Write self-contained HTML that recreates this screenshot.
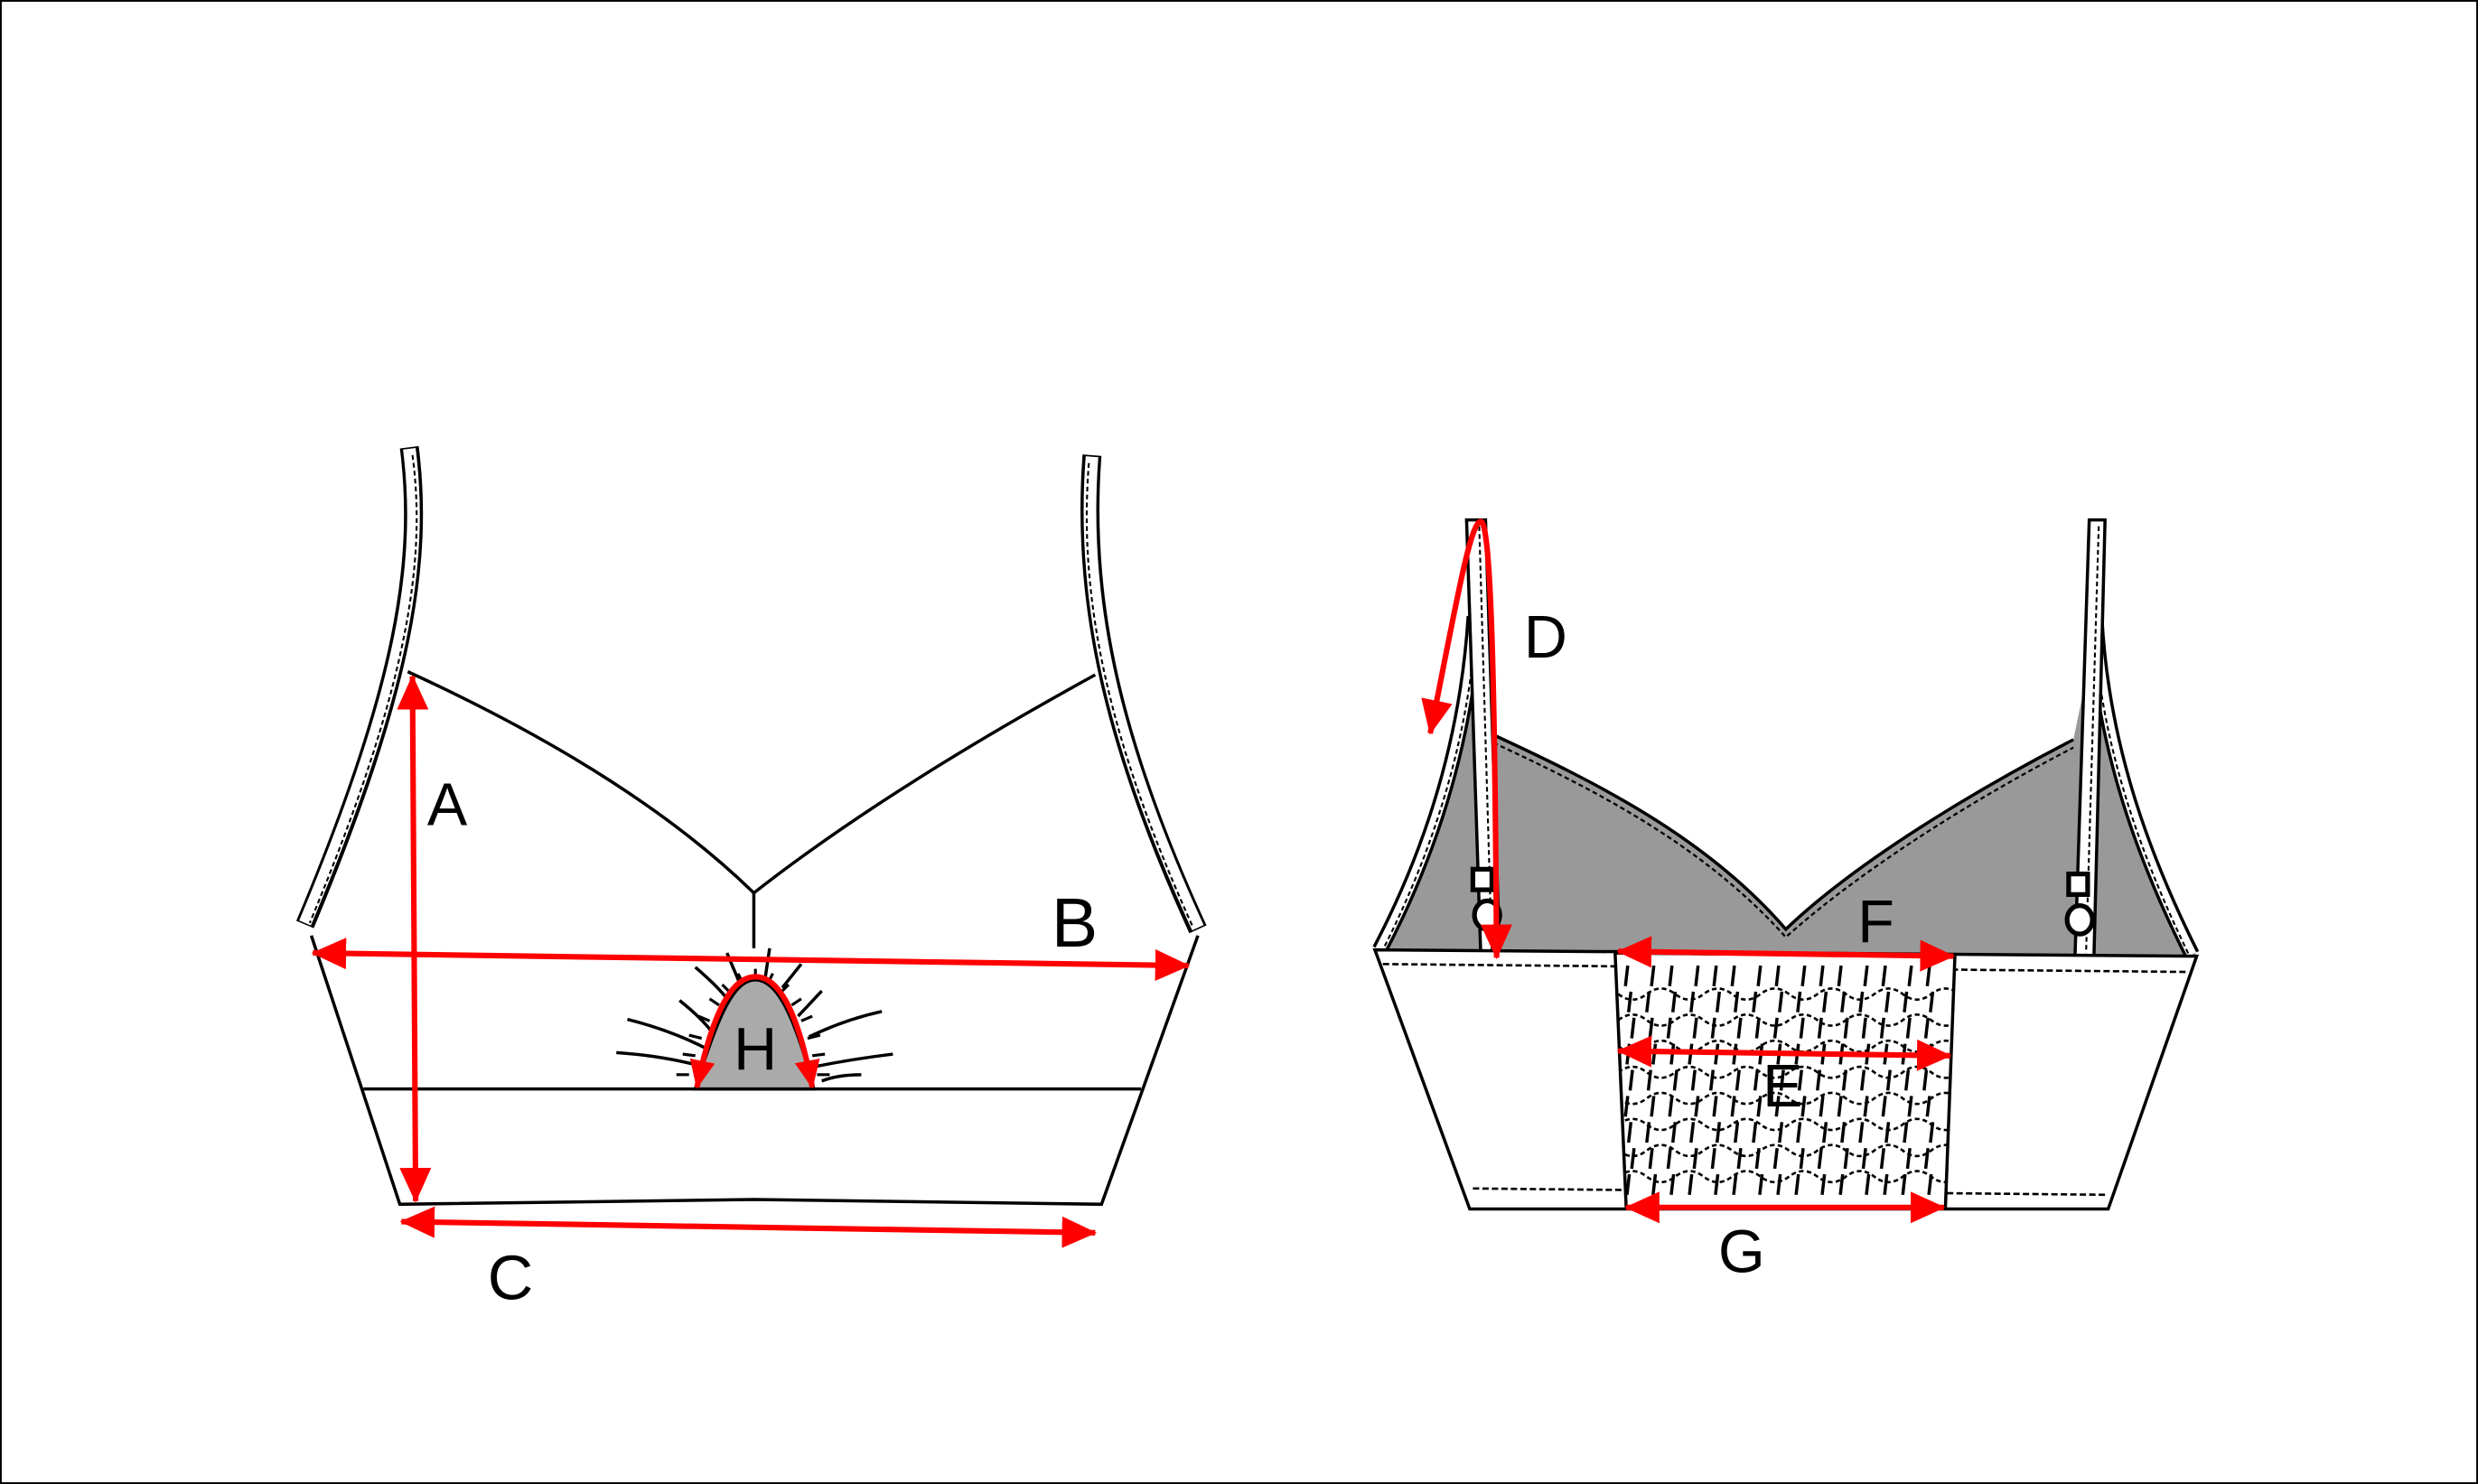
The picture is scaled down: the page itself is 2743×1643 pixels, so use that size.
<!DOCTYPE html>
<html><head><meta charset="utf-8"><style>
html,body{margin:0;padding:0;background:#fff}
svg{display:block}
text{font-family:"Liberation Sans",Arial,sans-serif;fill:#000}
</style></head><body>
<svg id="s" width="2743" height="1643" viewBox="0 0 1568 939" preserveAspectRatio="none" xmlns="http://www.w3.org/2000/svg">
<defs>
<marker id="ah" viewBox="0 0 22 20" refX="21" refY="10" markerWidth="22" markerHeight="20" markerUnits="userSpaceOnUse" orient="auto-start-reverse">
<path d="M0,0 L22,10 L0,20 z" fill="#f00"/></marker>
<marker id="ahs" viewBox="0 0 18 16" refX="17" refY="8" markerWidth="18" markerHeight="16" markerUnits="userSpaceOnUse" orient="auto-start-reverse">
<path d="M0,0 L18,8 L0,16 z" fill="#f00"/></marker>
<clipPath id="pc"><path d="M1022,603 L1237,605 L1231,764 L1029,764 Z"/></clipPath>
</defs>
<rect x="0.5" y="0.5" width="1567" height="938" fill="#fff" stroke="#000" stroke-width="1.2"/>

<!-- LEFT GARMENT -->
<g fill="none" stroke="#000" stroke-width="2">
<path d="M259,283 C268,355 256,435 193,585" stroke-width="12"/>
<path d="M259,284 C268,355 256,435 193,584" stroke="#fff" stroke-width="8"/>
<path d="M261,288 C270,355 258,435 196,584" stroke-width="1.2" stroke-dasharray="3,2"/>
<path d="M691,288 C684,380 704,470 758,588" stroke-width="12"/>
<path d="M691,289 C684,380 704,470 758,587" stroke="#fff" stroke-width="8"/>
<path d="M689,293 C682,380 702,470 755,587" stroke-width="1.2" stroke-dasharray="3,2"/>
<path d="M258,425 Q400,490 477,565"/>
<path d="M693,427 Q560,500 477,565"/>
<path d="M477,565 L477,600"/>
<path d="M197,592 L253,762 L477,759 L697,762 L758,592"/>
<path d="M230,689 L722,689"/>
<path d="M390,666 Q420,668 445,675"/><path d="M397,645 Q425,652 448,664"/>
<path d="M430,633 Q445,645 452,655"/><path d="M440,612 Q455,625 460,632"/>
<path d="M460,603 L468,622"/><path d="M487,600 L484,620"/>
<path d="M507,610 L495,625"/><path d="M520,627 L505,643"/>
<path d="M558,640 Q535,645 512,656"/><path d="M565,667 Q540,670 515,675"/>
<path d="M520,684 Q530,680 545,680"/>
</g>
<path d="M440,689 C455,640 465,620 478,620 C491,620 502,640 515,689 Z" fill="#aaa" stroke="#000" stroke-width="2"/>
<g stroke="#000" stroke-width="1.8">
<path d="M436,680 l-8,0 M440,668 l-8,-1 M444,657 l-8,-2 M449,646 l-7,-3 M455,636 l-6,-4 M462,628 l-5,-5 M470,622 l-3,-6 M478,620 l0,-7 M486,622 l3,-6 M494,628 l5,-5 M501,636 l6,-4 M507,646 l7,-3 M511,657 l8,-2 M514,668 l8,-1 M517,680 l8,0"/>
</g>
<text x="478" y="677" font-size="38" text-anchor="middle">H</text>
<path d="M441,688 C452,635 465,618 478,618 C491,618 504,635 514,688" fill="none" stroke="#f00" stroke-width="3.5" marker-start="url(#ahs)" marker-end="url(#ahs)"/>
<g stroke="#f00" stroke-width="3.5" fill="none">
<path d="M261,428 L263,760" marker-start="url(#ah)" marker-end="url(#ah)"/>
<path d="M198,603 L752,611" marker-start="url(#ah)" marker-end="url(#ah)"/>
<path d="M254,773 L693,780" marker-start="url(#ah)" marker-end="url(#ah)"/>
</g>
<text x="283" y="522" font-size="38" text-anchor="middle">A</text>
<text x="680" y="599" font-size="44" text-anchor="middle">B</text>
<text x="323" y="822" font-size="40" text-anchor="middle">C</text>

<!-- RIGHT GARMENT -->
<path d="M870,601 C900,540 925,480 935,420 L945,465 C1010,495 1080,530 1130,588 C1175,545 1250,500 1312,468 L1326,400 C1335,480 1360,540 1390,605 Z" fill="#999" stroke="none"/>
<g fill="none" stroke="#000" stroke-width="2">
<path d="M945,465 C1010,495 1080,530 1130,588 C1175,545 1250,500 1312,468"/>
<path d="M945,470 C1010,500 1078,535 1130,593 C1178,550 1250,505 1312,473" stroke-width="1.3" stroke-dasharray="3,2"/>
<path d="M933,390 C928,470 905,540 873,601" stroke-width="10"/>
<path d="M933,390 C928,470 905,540 873,601" stroke="#fff" stroke-width="6"/>
<path d="M934,395 C929,470 906,540 875,601" stroke-width="1.2" stroke-dasharray="3,2"/>
<path d="M1326,390 C1330,470 1355,540 1387,604" stroke-width="10"/>
<path d="M1326,390 C1330,470 1355,540 1387,604" stroke="#fff" stroke-width="6"/>
<path d="M1325,395 C1329,470 1354,540 1385,604" stroke-width="1.2" stroke-dasharray="3,2"/>
</g>
<path d="M928,329 L940,329 L949,605 L937,605 Z" fill="#fff" stroke="#000" stroke-width="2"/>
<path d="M936,333 L944,603" stroke="#000" stroke-width="1.2" stroke-dasharray="3,2"/>
<path d="M1322,329 L1332,329 L1325,605 L1313,605 Z" fill="#fff" stroke="#000" stroke-width="2"/>
<path d="M1328,333 L1320,603" stroke="#000" stroke-width="1.2" stroke-dasharray="3,2"/>
<g fill="#fff" stroke="#000" stroke-width="3">
<rect x="932" y="550" width="12" height="13"/>
<ellipse cx="941" cy="579" rx="8" ry="9"/>
<rect x="1309" y="553" width="12" height="13"/>
<ellipse cx="1316" cy="582" rx="8" ry="9"/>
</g>
<path d="M870,601 L1390,605 L1334,765 L930,765 Z" fill="#fff" stroke="#000" stroke-width="2"/>
<path d="M875,610 L1385,615" stroke="#000" stroke-width="1.5" stroke-dasharray="4,2"/>
<path d="M932,752 L1332,756" stroke="#000" stroke-width="1.5" stroke-dasharray="4,2"/>
<path d="M1022,603 L1237,605 L1231,764 L1029,764 Z" fill="#fff" stroke="#000" stroke-width="2"/>
<g id="smock" stroke="#000" fill="none" clip-path="url(#pc)"></g>
<g stroke="#f00" stroke-width="3.5" fill="none">
<path d="M1024,602 L1236,605" marker-start="url(#ah)" marker-end="url(#ah)"/>
<path d="M1024,665 L1234,668" marker-start="url(#ah)" marker-end="url(#ah)"/>
<path d="M1029,764 L1230,764" marker-start="url(#ah)" marker-end="url(#ah)"/>
<path d="M905,464 C920,390 930,330 937,330 C944,330 946,450 947,606" marker-start="url(#ah)" marker-end="url(#ah)"/>
</g>
<text x="978" y="416" font-size="38" text-anchor="middle">D</text>
<text x="1187" y="596" font-size="38" text-anchor="middle">F</text>
<text x="1128" y="700" font-size="38" text-anchor="middle">E</text>
<text x="1102" y="805" font-size="38" text-anchor="middle">G</text>
</svg>
<script>
(function(){
var g=document.getElementById('smock'),h='';
for(var r=0;r<8;r++){
 var y=629+r*16.5, d='M1024,'+y;
 for(var i=0;i<6;i++){ d+=' q9,'+(r%2?-7:7)+' 18,0 q9,'+(r%2?7:-7)+' 18,0'; }
 h+='<path d="'+d+'" stroke-width="1.5" stroke-dasharray="3,2"/>';
}
for(var r=0;r<9;r++){
 var y=611+r*16.5;
 for(var c=0;c<15;c++){
  var x=1032+c*13.5+((r*7+c*3)%5)-2;
  h+='<path d="M'+x+','+y+' l-1.5,13" stroke-width="2"/>';
 }
}
g.innerHTML=h;
})();
</script>
</body></html>
